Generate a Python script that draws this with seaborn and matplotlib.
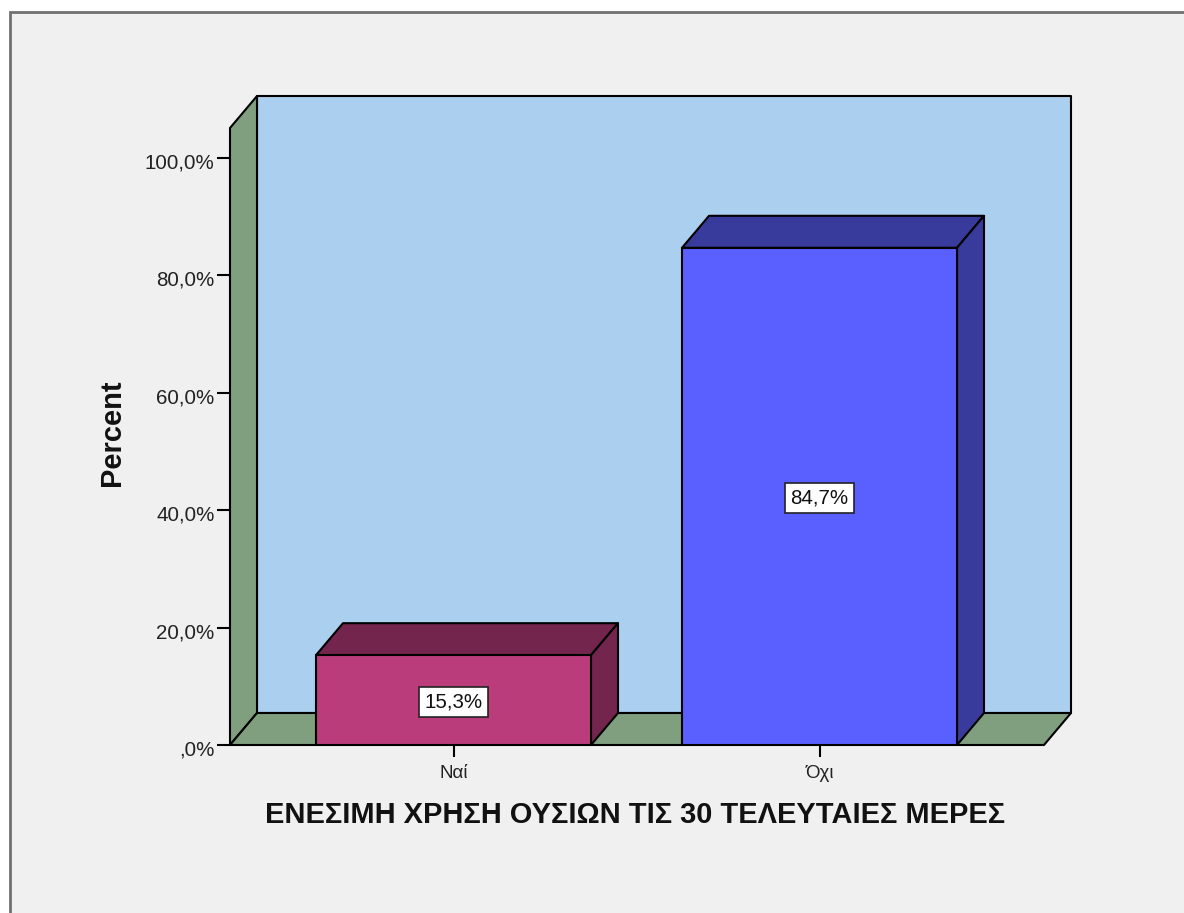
import matplotlib
matplotlib.use("Agg")
import matplotlib.pyplot as plt
from matplotlib.patches import Polygon, Rectangle
from matplotlib.transforms import ScaledTranslation
import seaborn as sns
import pandas as pd

categories = ["Ναί", "Όχι"]
percent_values = [15.3, 84.7]
value_labels = ["15,3%", "84,7%"]
y_ticks = [0, 20, 40, 60, 80, 100]
y_tick_labels = [",0%", "20,0%", "40,0%", "60,0%", "80,0%", "100,0%"]
x_title = "ΕΝΕΣΙΜΗ ΧΡΗΣΗ ΟΥΣΙΩΝ ΤΙΣ 30 ΤΕΛΕΥΤΑΙΕΣ ΜΕΡΕΣ"
y_title = "Percent"

W, H = 1184, 913
front_colors = ["#BA3C7B", "#5A60FF"]
top_colors = ["#73254D", "#393B9C"]
side_colors = ["#73254D", "#393B9C"]
WALL = "#7F9F7F"
BACK = "#ABCFEF"
BG = "#F0F0F0"
LW = 1.5

sns.set_theme(style="white")
plt.rcParams["font.family"] = ["Liberation Sans", "DejaVu Sans"]

fig = plt.figure(figsize=(W / 100, H / 100), dpi=100, facecolor="white")
fig.add_artist(Rectangle((10 / W, -0.05), 1.05, 1.05 - 12 / H, transform=fig.transFigure,
                         facecolor=BG, edgecolor="#707070", linewidth=2, zorder=-5))

px_l, px_r, px_b, px_t = 230, 1071, 745, 96
ax = fig.add_axes([px_l / W, 1 - px_b / H, (px_r - px_l) / W, (px_b - px_t) / H])
ax.patch.set_visible(False)
for s in ax.spines.values():
    s.set_visible(False)

df = pd.DataFrame({"cat": categories, "pct": percent_values})
sns.barplot(data=df, x="cat", y="pct", hue="cat", palette=front_colors, legend=False,
            width=275 / 366, edgecolor="black", linewidth=LW, saturation=1, ax=ax, zorder=5)

ppu_x, ppu_y = 366.0, 5.87
ax.set_xlim((px_l - 453.5) / ppu_x, 1 + (px_r - 819.5) / ppu_x)
ax.set_ylim(0, (px_b - px_t) / ppu_y)
dx, dy = 27 / ppu_x, 32 / ppu_y

x0, x1 = ax.get_xlim()
y1 = ax.get_ylim()[1]
fx1 = x1 - dx
ft = y1 - dy


def poly(points, color, z):
    ax.add_patch(Polygon(points, closed=True, facecolor=color, edgecolor="black",
                         linewidth=LW, joinstyle="round", clip_on=False, zorder=z))


poly([(x0 + dx, dy), (x1, dy), (x1, y1), (x0 + dx, y1)], BACK, 1)
poly([(x0, 0), (x0 + dx, dy), (x0 + dx, y1), (x0, ft)], WALL, 2)
poly([(x0, 0), (fx1, 0), (x1, dy), (x0 + dx, dy)], WALL, 2)

label_shift = ScaledTranslation(0, -2 / 100, fig.dpi_scale_trans)
for i, bar in enumerate(ax.patches[:2]):
    a, b, h = bar.get_x(), bar.get_x() + bar.get_width(), bar.get_height()
    poly([(a, h), (b, h), (b + dx, h + dy), (a + dx, h + dy)], top_colors[i], 4)
    poly([(b, 0), (b + dx, dy), (b + dx, h + dy), (b, h)], side_colors[i], 4)
    ax.text((a + b) / 2, h / 2, value_labels[i], ha="center", va="center", fontsize=14.8,
            color="#111111", zorder=7, transform=ax.transData + label_shift,
            bbox=dict(boxstyle="square,pad=0.27", facecolor="white", edgecolor="#222222", linewidth=1.2))

ax.set_yticks(y_ticks, y_tick_labels)
ax.set_xticks(range(len(categories)), categories)
ax.tick_params(axis="y", left=True, length=9.5, width=LW, color="black", pad=1,
               labelsize=14.8, labelcolor="#222222")
ax.tick_params(axis="x", bottom=True, length=8.5, width=LW, color="black", pad=6,
               labelsize=13.5, labelcolor="#222222")
for lab in ax.get_yticklabels():
    lab.set_transform(lab.get_transform() + ScaledTranslation(-1 / 100, -3 / 100, fig.dpi_scale_trans))
ax.set_xlabel("")
ax.set_ylabel("")

fig.text(635 / W, 1 - 815 / H, x_title, ha="center", va="center", fontsize=20.9,
         fontweight="bold", color="#111111")
fig.text(112 / W, 1 - 433 / H, y_title, ha="center", va="center", rotation=90, fontsize=20.9,
         fontweight="bold", color="#111111")

fig.savefig("out.png", dpi=100, facecolor="white")
